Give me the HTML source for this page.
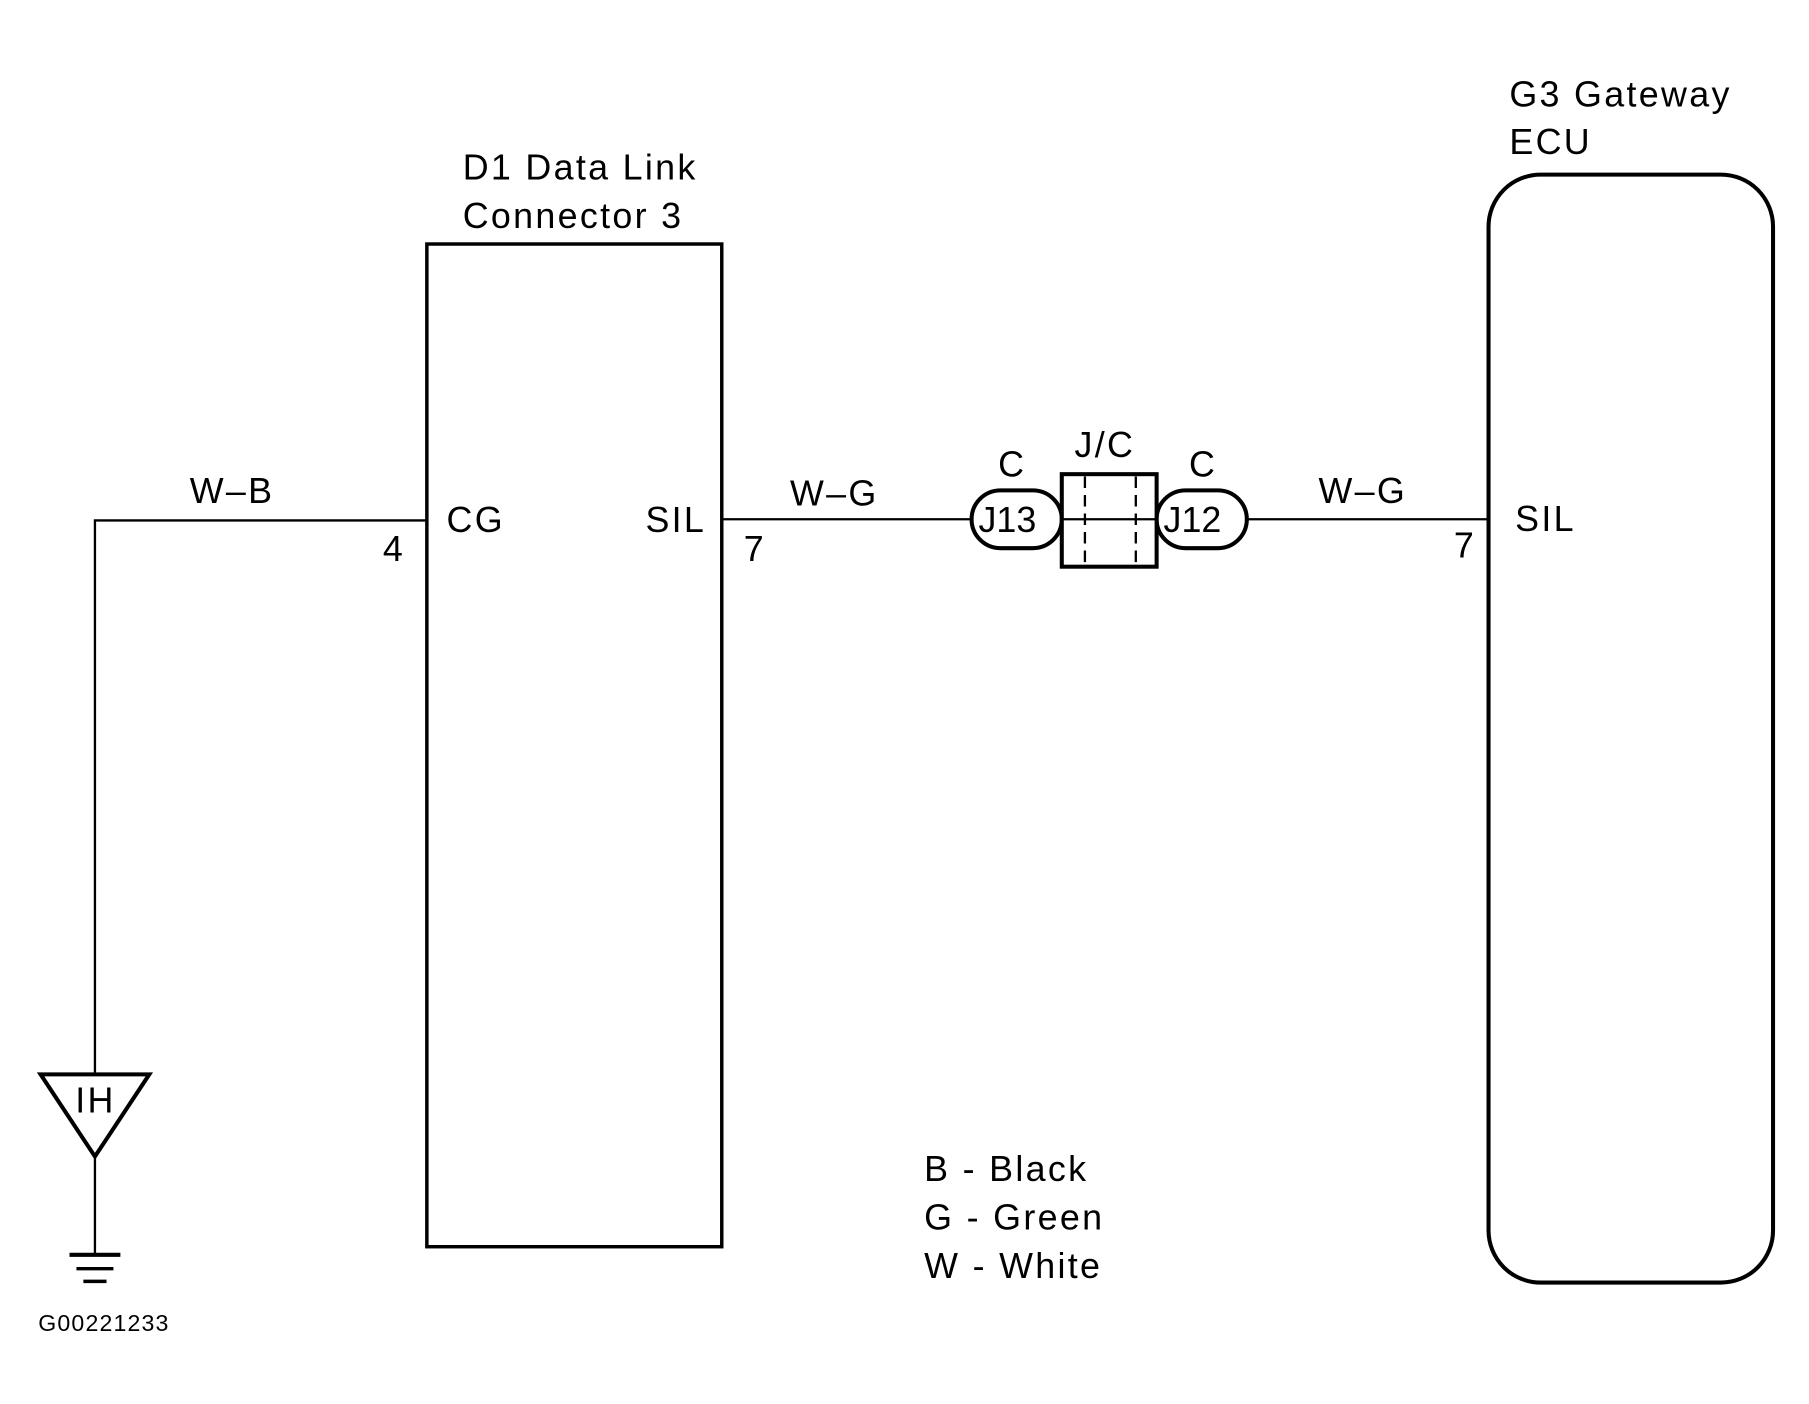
<!DOCTYPE html>
<html><head><meta charset="utf-8"><style>
html,body{margin:0;padding:0;background:#fff;}
svg{display:block;}
text{font-family:"Liberation Sans",Arial,sans-serif;fill:#000;}
</style></head><body>
<svg width="1809" height="1404" viewBox="0 0 1564 1214" xmlns="http://www.w3.org/2000/svg">
<rect width="1564" height="1214" fill="#fff"/>
<g fill="none" stroke="#000">
<rect x="369" y="211" width="255" height="867" stroke-width="3"/>
<rect x="1287" y="151" width="246" height="958" rx="45" ry="45" stroke-width="3.5"/>
<polyline points="369,450 82,450 82,929" stroke-width="2"/>
<polygon points="35,929 129,929 82,1000" stroke-width="3.5"/>
<line x1="82" y1="1000" x2="82" y2="1085" stroke-width="2"/>
<line x1="60" y1="1085" x2="104" y2="1085" stroke-width="3.5"/>
<line x1="66" y1="1097" x2="98" y2="1097" stroke-width="3"/>
<line x1="72" y1="1108" x2="92" y2="1108" stroke-width="3"/>
<line x1="624" y1="449" x2="840" y2="449" stroke-width="2"/>
<line x1="1078" y1="449" x2="1287" y2="449" stroke-width="2"/>
<rect x="840" y="424" width="78" height="50" rx="25" ry="25" stroke-width="3.5"/>
<rect x="1000" y="424" width="78" height="50" rx="25" ry="25" stroke-width="3.5"/>
<rect x="918" y="410" width="82" height="80" stroke-width="3.5" fill="#fff"/>
<line x1="918" y1="449" x2="1000" y2="449" stroke-width="2"/>
<line x1="938" y1="412" x2="938" y2="488" stroke-width="2" stroke-dasharray="10,6"/>
<line x1="982" y1="412" x2="982" y2="488" stroke-width="2" stroke-dasharray="10,6"/>
</g>
<g font-size="31" letter-spacing="2">
<text x="400" y="155">D1 Data Link</text>
<text x="400" y="197">Connector 3</text>
<text x="1305" y="92">G3 Gateway</text>
<text x="1305" y="133">ECU</text>
<text x="164" y="435">W–B</text>
<text x="386" y="460">CG</text>
<text x="331" y="485">4</text>
<text x="558" y="460">SIL</text>
<text x="643" y="485">7</text>
<text x="683" y="437">W–G</text>
<text x="863" y="412">C</text>
<text x="929" y="395">J/C</text>
<text x="1028" y="412">C</text>
<text x="1140" y="435">W–G</text>
<text x="1257" y="482">7</text>
<text x="1310" y="459">SIL</text>
<text x="846" y="460" letter-spacing="0">J13</text>
<text x="1006" y="460" letter-spacing="0">J12</text>
<text x="65" y="962">IH</text>
<text x="799" y="1021">B - Black</text>
<text x="799" y="1063">G - Green</text>
<text x="799" y="1105">W - White</text>
</g>
<text x="33" y="1151" font-size="20" letter-spacing="1">G00221233</text>
</svg>
</body></html>
